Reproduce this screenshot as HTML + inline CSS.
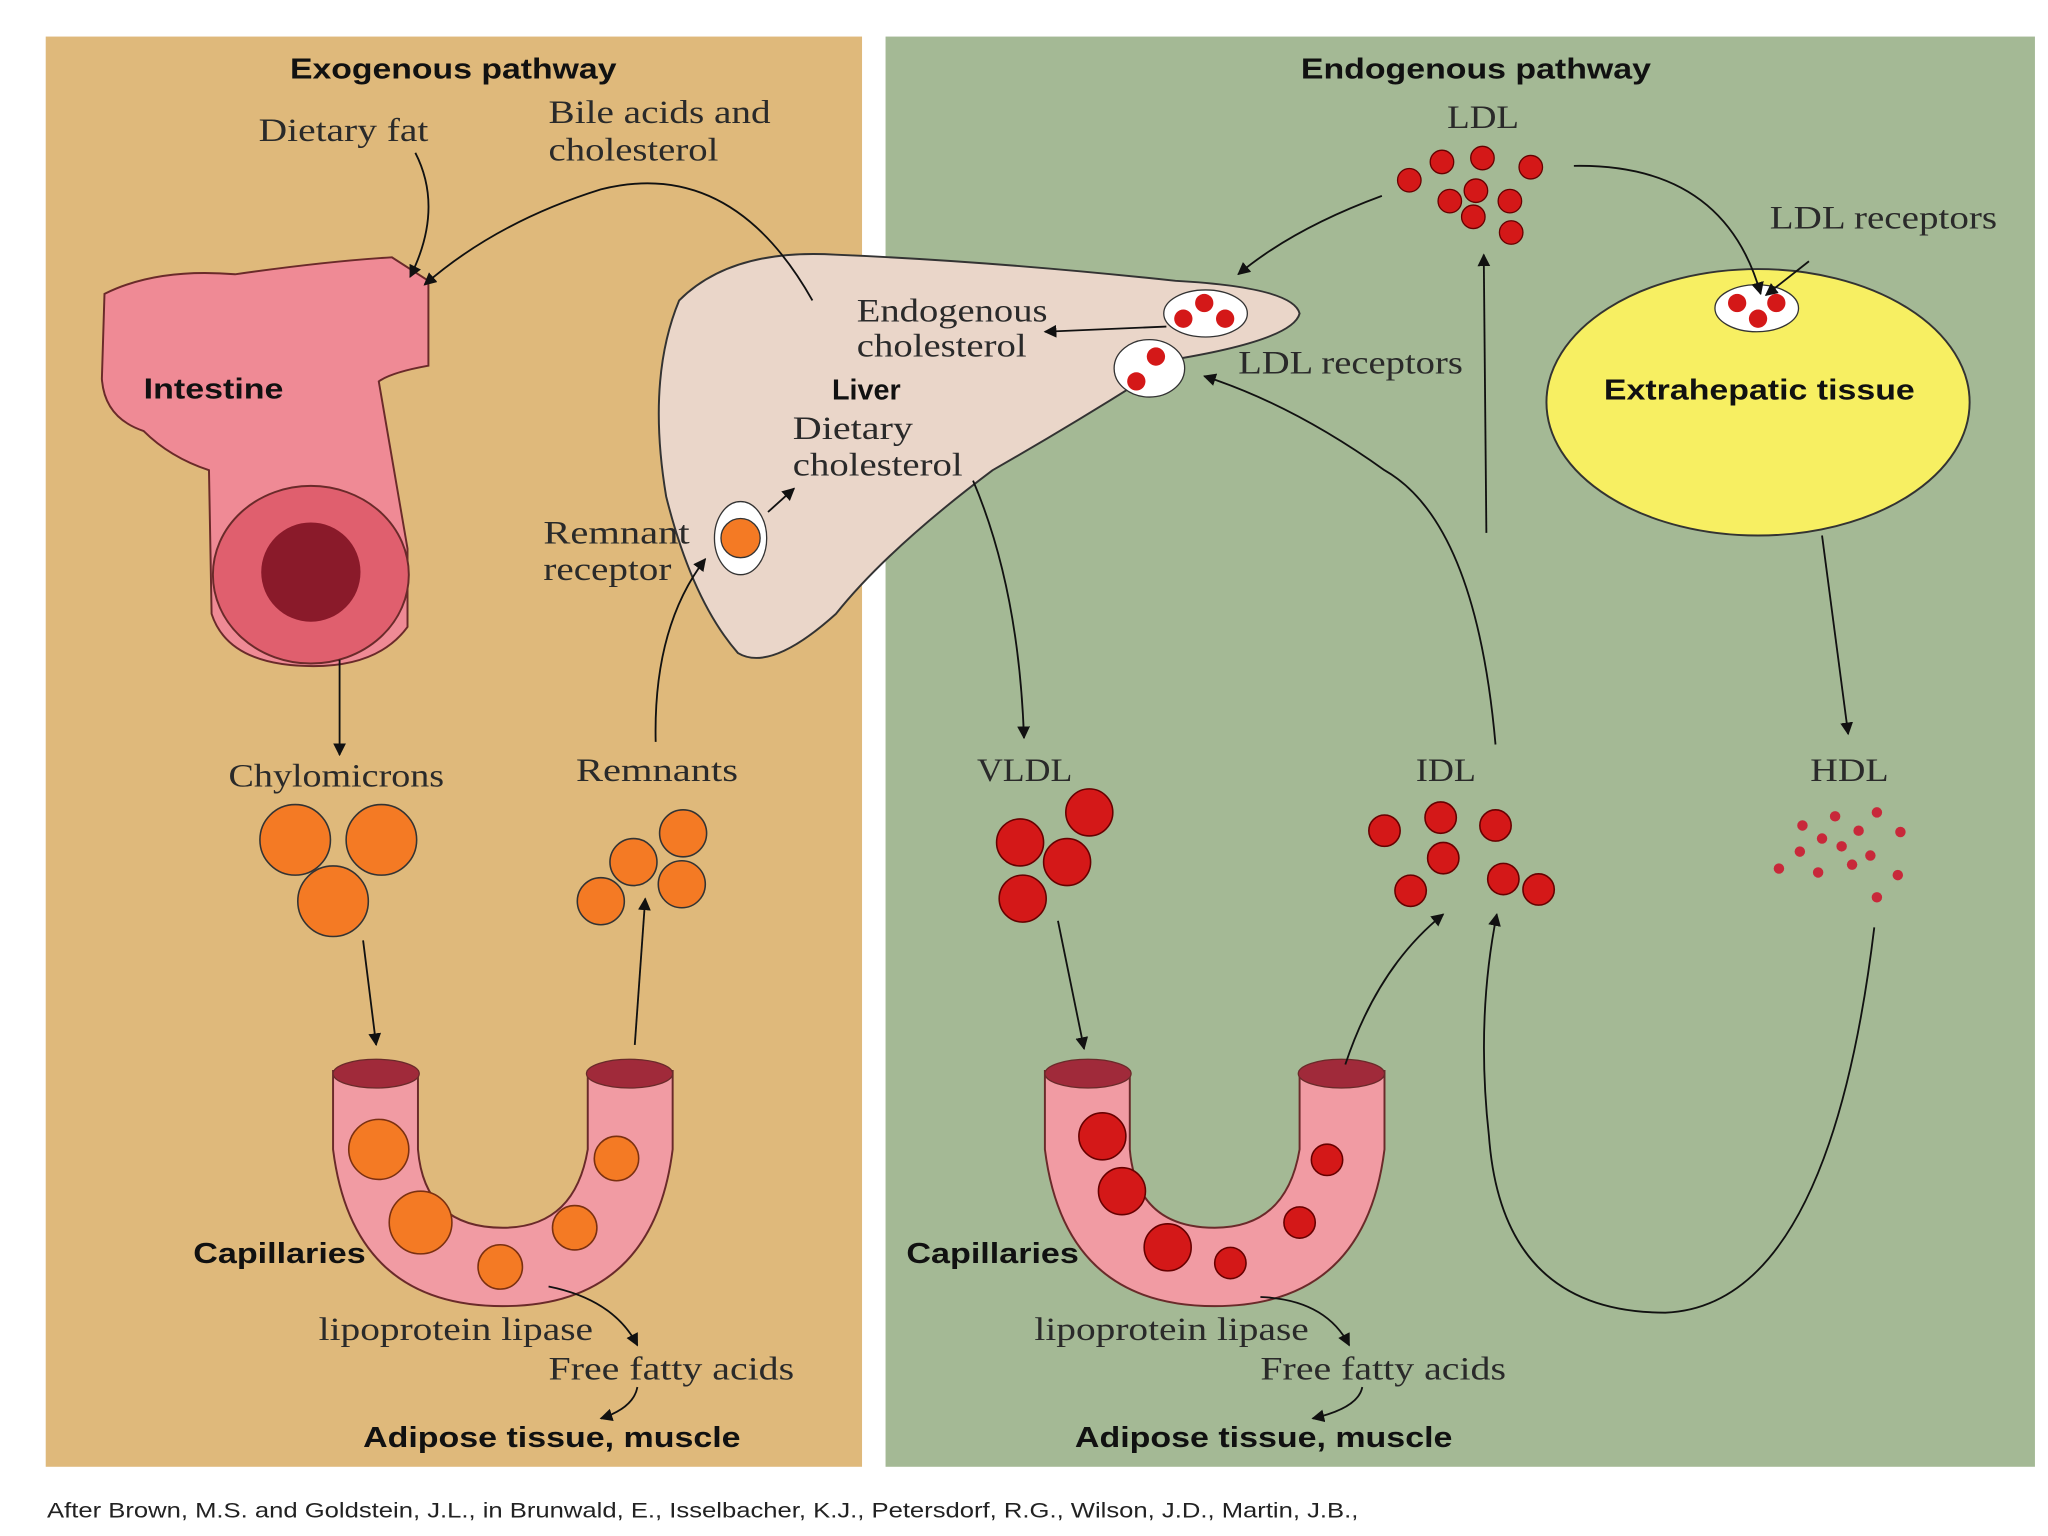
<!DOCTYPE html>
<html><head><meta charset="utf-8"><style>
html,body{margin:0;padding:0;background:#fff;}
svg{display:block;}
.s{font-family:"Liberation Serif",serif;font-size:25px;fill:#2a2a2a;}
.b{font-family:"Liberation Sans",sans-serif;font-size:22px;font-weight:bold;fill:#111;}
</style></head><body>
<svg width="2048" height="1536" viewBox="0 0 1568 1176" preserveAspectRatio="none" xmlns="http://www.w3.org/2000/svg">
<defs>
<marker id="a" viewBox="0 0 10 10" refX="9" refY="5" markerWidth="7" markerHeight="7" orient="auto"><path d="M0,0L10,5L0,10z" fill="#111"/></marker>
</defs>
<rect x="0" y="0" width="1568" height="1176" fill="#fff"/>
<rect x="35" y="28" width="625" height="1095" fill="#dfb97b"/>
<rect x="678" y="28" width="880" height="1095" fill="#a4b995"/>

<text class="b" x="222" y="60" textLength="250" lengthAdjust="spacingAndGlyphs">Exogenous pathway</text>
<text class="b" x="996" y="60" textLength="268" lengthAdjust="spacingAndGlyphs">Endogenous pathway</text>

<!-- Intestine -->
<path d="M80,225 Q120,205 180,210 Q250,200 300,197 L328,215 L328,280 Q300,285 290,292 Q300,350 312,420 L312,480 Q290,510 240,510 Q175,510 162,470 L160,360 Q130,350 110,330 Q80,320 78,290 Z" fill="#ef8a95" stroke="#6a2a2a" stroke-width="1.5"/>
<ellipse cx="238" cy="440" rx="75" ry="68" fill="#e05f6e" stroke="#6a2a2a" stroke-width="1.5"/>
<circle cx="238" cy="438" r="38" fill="#8a1a2a"/>
<text class="b" x="110" y="305" textLength="107" lengthAdjust="spacingAndGlyphs">Intestine</text>

<!-- Liver -->
<path d="M520,230 Q560,190 640,195 Q760,200 900,215 Q990,220 995,240 Q990,260 900,275 Q830,320 760,360 Q680,420 640,470 Q590,515 565,500 Q530,460 510,380 Q495,290 520,230Z" fill="#ead6c9" stroke="#333" stroke-width="1.5"/>
<text class="b" x="637" y="306">Liver</text>
<text class="s" x="656" y="246" textLength="146" lengthAdjust="spacingAndGlyphs">Endogenous</text>
<text class="s" x="656" y="273" textLength="130" lengthAdjust="spacingAndGlyphs">cholesterol</text>
<text class="s" x="607" y="336" textLength="92" lengthAdjust="spacingAndGlyphs">Dietary</text>
<text class="s" x="607" y="364" textLength="130" lengthAdjust="spacingAndGlyphs">cholesterol</text>
<ellipse cx="923" cy="240" rx="32" ry="18" fill="#fff" stroke="#333"/>
<circle cx="906" cy="244" r="7" fill="#d41818"/><circle cx="922" cy="232" r="7" fill="#d41818"/><circle cx="938" cy="244" r="7" fill="#d41818"/>
<ellipse cx="880" cy="282" rx="27" ry="22" fill="#fff" stroke="#333"/>
<circle cx="885" cy="273" r="7" fill="#d41818"/><circle cx="870" cy="292" r="7" fill="#d41818"/>
<ellipse cx="567" cy="412" rx="20" ry="28" fill="#fff" stroke="#333"/>
<circle cx="567" cy="412" r="15" fill="#f47a24" stroke="#333"/>
<text class="s" x="948" y="286" textLength="172" lengthAdjust="spacingAndGlyphs">LDL receptors</text>
<text class="s" x="416" y="416" textLength="112" lengthAdjust="spacingAndGlyphs">Remnant</text>
<text class="s" x="416" y="444" textLength="98" lengthAdjust="spacingAndGlyphs">receptor</text>

<text class="s" x="198" y="108" textLength="130" lengthAdjust="spacingAndGlyphs">Dietary fat</text>
<text class="s" x="420" y="94" textLength="170" lengthAdjust="spacingAndGlyphs">Bile acids and</text>
<text class="s" x="420" y="123" textLength="130" lengthAdjust="spacingAndGlyphs">cholesterol</text>

<!-- Extrahepatic -->
<ellipse cx="1346" cy="308" rx="162" ry="102" fill="#f7ef62" stroke="#333" stroke-width="1.5"/>
<text class="b" x="1228" y="306" textLength="238" lengthAdjust="spacingAndGlyphs">Extrahepatic tissue</text>
<ellipse cx="1345" cy="236" rx="32" ry="18" fill="#fff" stroke="#333"/>
<circle cx="1330" cy="232" r="7" fill="#d41818"/><circle cx="1360" cy="232" r="7" fill="#d41818"/><circle cx="1346" cy="244" r="7" fill="#d41818"/>
<text class="s" x="1355" y="175" textLength="174" lengthAdjust="spacingAndGlyphs">LDL receptors</text>

<text class="s" x="1108" y="98" textLength="55" lengthAdjust="spacingAndGlyphs">LDL</text>
<g fill="#d41818" stroke="#600" stroke-width="1">
<circle cx="1079" cy="138" r="9"/><circle cx="1104" cy="124" r="9"/><circle cx="1135" cy="121" r="9"/><circle cx="1172" cy="128" r="9"/>
<circle cx="1110" cy="154" r="9"/><circle cx="1130" cy="146" r="9"/><circle cx="1156" cy="154" r="9"/><circle cx="1128" cy="166" r="9"/><circle cx="1157" cy="178" r="9"/>
</g>

<text class="s" x="175" y="602" textLength="165" lengthAdjust="spacingAndGlyphs">Chylomicrons</text>
<text class="s" x="441" y="598" textLength="124" lengthAdjust="spacingAndGlyphs">Remnants</text>
<text class="s" x="748" y="598" textLength="73" lengthAdjust="spacingAndGlyphs">VLDL</text>
<text class="s" x="1084" y="598" textLength="46" lengthAdjust="spacingAndGlyphs">IDL</text>
<text class="s" x="1386" y="598" textLength="60" lengthAdjust="spacingAndGlyphs">HDL</text>

<g fill="#f47a24" stroke="#333" stroke-width="1.2">
<circle cx="226" cy="643" r="27"/><circle cx="292" cy="643" r="27"/><circle cx="255" cy="690" r="27"/>
<circle cx="523" cy="638" r="18"/><circle cx="485" cy="660" r="18"/><circle cx="522" cy="677" r="18"/><circle cx="460" cy="690" r="18"/>
</g>
<g fill="#d41818" stroke="#600" stroke-width="1.2">
<circle cx="834" cy="622" r="18"/><circle cx="781" cy="645" r="18"/><circle cx="817" cy="660" r="18"/><circle cx="783" cy="688" r="18"/>
<circle cx="1060" cy="636" r="12"/><circle cx="1103" cy="626" r="12"/><circle cx="1145" cy="632" r="12"/><circle cx="1105" cy="657" r="12"/>
<circle cx="1080" cy="682" r="12"/><circle cx="1151" cy="673" r="12"/><circle cx="1178" cy="681" r="12"/>
</g>
<g fill="#c8283a">
<circle cx="1380" cy="632" r="4"/><circle cx="1405" cy="625" r="4"/><circle cx="1437" cy="622" r="4"/><circle cx="1455" cy="637" r="4"/>
<circle cx="1395" cy="642" r="4"/><circle cx="1423" cy="636" r="4"/><circle cx="1410" cy="648" r="4"/><circle cx="1378" cy="652" r="4"/>
<circle cx="1432" cy="655" r="4"/><circle cx="1362" cy="665" r="4"/><circle cx="1392" cy="668" r="4"/><circle cx="1418" cy="662" r="4"/>
<circle cx="1453" cy="670" r="4"/><circle cx="1437" cy="687" r="4"/>
</g>

<path d="M255,820 L255,880 Q270,1000 385,1000 Q500,1000 515,880 L515,820 L450,820 L450,880 Q440,940 385,940 Q325,940 320,880 L320,820 Z" fill="#f19ba3" stroke="#6a2a2a" stroke-width="1.5"/>
<ellipse cx="288" cy="822" rx="33" ry="11" fill="#a02a3a" stroke="#6a2a2a"/>
<ellipse cx="482" cy="822" rx="33" ry="11" fill="#a02a3a" stroke="#6a2a2a"/>
<g fill="#f47a24" stroke="#7a3010" stroke-width="1.2">
<circle cx="290" cy="880" r="23"/><circle cx="322" cy="936" r="24"/><circle cx="383" cy="970" r="17"/><circle cx="440" cy="940" r="17"/><circle cx="472" cy="887" r="17"/>
</g>
<path d="M800,820 L800,880 Q815,1000 930,1000 Q1045,1000 1060,880 L1060,820 L995,820 L995,880 Q985,940 930,940 Q870,940 865,880 L865,820 Z" fill="#f19ba3" stroke="#6a2a2a" stroke-width="1.5"/>
<ellipse cx="833" cy="822" rx="33" ry="11" fill="#a02a3a" stroke="#6a2a2a"/>
<ellipse cx="1027" cy="822" rx="33" ry="11" fill="#a02a3a" stroke="#6a2a2a"/>
<g fill="#d41818" stroke="#600" stroke-width="1.2">
<circle cx="844" cy="870" r="18"/><circle cx="859" cy="912" r="18"/><circle cx="894" cy="955" r="18"/><circle cx="942" cy="967" r="12"/><circle cx="995" cy="936" r="12"/><circle cx="1016" cy="888" r="12"/>
</g>

<text class="b" x="148" y="967" textLength="132" lengthAdjust="spacingAndGlyphs">Capillaries</text>
<text class="b" x="694" y="967" textLength="132" lengthAdjust="spacingAndGlyphs">Capillaries</text>
<text class="s" x="244" y="1026" textLength="210" lengthAdjust="spacingAndGlyphs">lipoprotein lipase</text>
<text class="s" x="420" y="1056" textLength="188" lengthAdjust="spacingAndGlyphs">Free fatty acids</text>
<text class="b" x="278" y="1108" textLength="289" lengthAdjust="spacingAndGlyphs">Adipose tissue, muscle</text>
<text class="s" x="792" y="1026" textLength="210" lengthAdjust="spacingAndGlyphs">lipoprotein lipase</text>
<text class="s" x="965" y="1056" textLength="188" lengthAdjust="spacingAndGlyphs">Free fatty acids</text>
<text class="b" x="823" y="1108" textLength="289" lengthAdjust="spacingAndGlyphs">Adipose tissue, muscle</text>

<g fill="none" stroke="#111" stroke-width="1.4" marker-end="url(#a)">
<path d="M318,117 Q340,160 314,212"/>
<path d="M622,230 Q560,120 460,145 Q380,170 325,218"/>
<path d="M260,505 L260,578"/>
<path d="M278,720 L288,800"/>
<path d="M486,800 L494,688"/>
<path d="M502,568 Q500,480 540,428"/>
<path d="M588,392 L608,374"/>
<path d="M893,250 L800,254"/>
<path d="M1058,150 Q990,175 948,210"/>
<path d="M1205,127 Q1320,125 1348,225"/>
<path d="M1385,200 L1352,226"/>
<path d="M1138,408 L1136,195"/>
<path d="M1145,570 Q1130,400 1060,360 Q990,310 922,288"/>
<path d="M745,368 Q780,450 784,565"/>
<path d="M810,705 L830,803"/>
<path d="M1030,815 Q1055,740 1105,700"/>
<path d="M1395,410 L1415,562"/>
<path d="M1435,710 Q1400,1000 1275,1005 Q1150,1005 1140,870 Q1130,780 1146,700"/>
<path d="M420,985 Q470,995 488,1030"/>
<path d="M488,1062 Q485,1078 460,1086"/>
<path d="M965,993 Q1015,995 1033,1030"/>
<path d="M1043,1062 Q1040,1078 1005,1086"/>
</g>

<text x="36" y="1162" font-family="Liberation Sans,sans-serif" font-size="16" fill="#222" textLength="1004" lengthAdjust="spacingAndGlyphs">After Brown, M.S. and Goldstein, J.L., in Brunwald, E., Isselbacher, K.J., Petersdorf, R.G., Wilson, J.D., Martin, J.B.,</text>
</svg>
</body></html>
